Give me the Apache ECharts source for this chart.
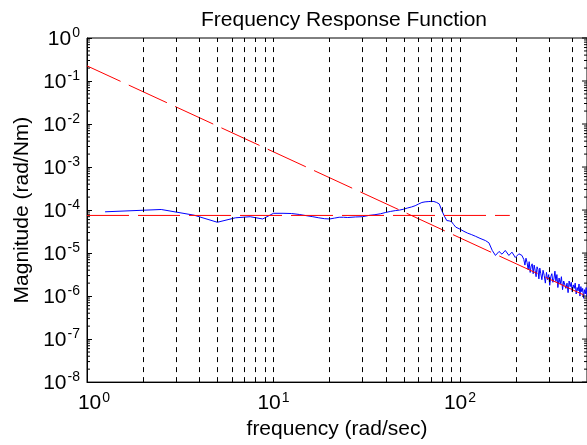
<!DOCTYPE html>
<html><head><meta charset="utf-8">
<script src="https://cdn.jsdelivr.net/npm/echarts@6/dist/echarts.min.js"></script>
<style>html,body{margin:0;padding:0;background:#fff}#c{width:587px;height:445px}</style>
</head><body><div id="c"></div>
<script>
const chartTitle = 'Frequency Response Function';
const xName = 'frequency (rad/sec)';
const yName = 'Magnitude (rad/Nm)';
const xMin = 1, xMax = 480;
const yMin = 1e-8, yMax = 1;
const gridFreqs = [2,3,4,5,6,7,8,9,10,20,30,40,50,60,70,80,90,100,200,300,400];

// measured FRF (blue)
const frfFreq = [1.25,2.5,3.75,5,6.25,7.5,8.75,10,11.25,12.5,13.75,15,16.25,17.5,18.75,20,21.25,22.5,23.75,25,27.5,30,32.5,35,37.5,40,42.5,45,47.5,50,52.5,55,57.5,60,62.5,65,67.5,70,72.5,75,77.5,80,82.5,85,87.5,90,92.5,95,100,105,110,115,121,128,137,143,149,155,162,168,175,183,190,198,207,215,
  220,223,226,229,232,235,238,241,244,247,250,253,256,259,262,265,268,271,275,279,283,287,291,295,299,303,307,311,315,319,323,327,331,335,340,345,350,355,360,365,370,375,380,385,390,395,400,405,410,415,420,425,430,435,440,445,450,455,460,465,470,475,480];
const frfMag  = [9.1e-5,1.03e-4,7.6e-5,5.2e-5,6.6e-5,7.0e-5,6.2e-5,8.4e-5,8.4e-5,8.3e-5,7.9e-5,7.4e-5,7.0e-5,6.6e-5,6.3e-5,6.2e-5,6.5e-5,6.8e-5,6.8e-5,6.7e-5,6.9e-5,7.0e-5,7.5e-5,7.8e-5,8.2e-5,8.8e-5,9.3e-5,9.7e-5,1.0e-4,1.05e-4,1.12e-4,1.18e-4,1.26e-4,1.38e-4,1.5e-4,1.55e-4,1.57e-4,1.59e-4,1.58e-4,1.5e-4,1.38e-4,9.6e-5,7.2e-5,5.7e-5,5.6e-5,5.4e-5,4.6e-5,4.0e-5,3.6e-5,3.2e-5,2.9e-5,2.7e-5,2.46e-5,2.2e-5,1.95e-5,1.73e-5,1.15e-5,8.8e-6,1.09e-5,9.4e-6,1.15e-5,8.8e-6,1.05e-5,7.9e-6,9.6e-6,8.8e-6,
  7.08e-6,5.25e-6,7.59e-6,6.03e-6,4.17e-6,6.31e-6,3.55e-6,5.01e-6,5.62e-6,3.31e-6,5.25e-6,3.98e-6,2.82e-6,4.79e-6,4.17e-6,2.51e-6,4.47e-6,3.39e-6,2.40e-6,3.98e-6,3.02e-6,2.0e-6,3.55e-6,2.40e-6,3.16e-6,1.78e-6,2.82e-6,3.31e-6,2.09e-6,2.51e-6,3.80e-6,2.19e-6,3.16e-6,1.58e-6,2.63e-6,1.91e-6,2.82e-6,1.41e-6,2.24e-6,2.40e-6,1.51e-6,2.0e-6,1.20e-6,2.24e-6,1.66e-6,2.09e-6,1.26e-6,1.82e-6,1.51e-6,2.0e-6,1.12e-6,1.58e-6,1.32e-6,1.91e-6,1.0e-6,1.66e-6,1.26e-6,1.51e-6,8.9e-7,1.41e-6,1.12e-6,1.58e-6,9.5e-7];

// stiffness line (red, horizontal) and mass line (red, slope -2)
const stiffFreq = [1, 185];
const stiffMag  = [7.5e-5, 7.5e-5];
const massFreq  = [1, 480];
const massMag   = [2.25e-1, 9.8e-7];

const FONT = 'Liberation Sans, Arial, Helvetica, sans-serif';

// log minor tick positions for the y axis
const yMinor = [];
for (let e = -8; e < 0; e++) for (let m = 2; m <= 9; m++) yMinor.push(m * Math.pow(10, e));
const yMajor = [];
for (let e = -8; e <= 0; e++) yMajor.push(Math.pow(10, e));

function powLabel(v) {
  const e = Math.log10(v);
  const r = Math.round(e);
  if (Math.abs(e - r) > 1e-6) return '';
  return '{b|10}{s|' + r + '}';
}
function xLabel(v) {
  const e = Math.log10(v);
  const r = Math.round(e);
  if (Math.abs(e - r) > 1e-6) return '';
  return (r === 0 ? '{p|}' : '') + '{b|10}{s|' + r + '}';
}
const rich = {
  b: {fontSize: 21, fontFamily: FONT, color: '#000', lineHeight: 23, verticalAlign: 'bottom'},
  s: {fontSize: 14, fontFamily: FONT, color: '#000', lineHeight: 14, verticalAlign: 'top', padding: [0,0,0,1]},
  p: {width: 14, lineHeight: 14}
};

const chart = echarts.init(document.getElementById('c'), null, {renderer: 'canvas'});
chart.setOption({
  animation: false,
  backgroundColor: '#fff',
  title: {
    text: chartTitle, left: 339, top: 5, textAlign: 'center',
    textStyle: {fontSize: 21, fontWeight: 'normal', color: '#000', fontFamily: FONT}
  },
  grid: {left: 87, top: 38, right: -1, bottom: 61, show: true, borderColor: '#000', borderWidth: 1},
  xAxis: {
    type: 'log', logBase: 10, min: xMin, max: xMax,
    name: xName, nameLocation: 'middle', nameGap: 36,
    nameTextStyle: {fontSize: 21, fontFamily: FONT, color: '#000'},
    axisLine: {lineStyle: {color: '#000', width: 1}},
    axisTick: {show: false},
    splitLine: {show: false},
    axisLabel: {formatter: xLabel, rich: rich, margin: 9, showMaxLabel: false}
  },
  yAxis: {
    type: 'log', logBase: 10, min: yMin, max: yMax, interval: 1,
    name: yName, nameLocation: 'middle', nameGap: 52,
    nameTextStyle: {fontSize: 21, fontFamily: FONT, color: '#000'},
    axisLine: {lineStyle: {color: '#000', width: 1}},
    axisTick: {show: true, inside: true, length: 5, lineStyle: {color: '#000'}},
    splitLine: {show: false},
    axisLabel: {formatter: powLabel, rich: rich, margin: 7}
  },
  series: [
    {
      type: 'line', name: 'frf', data: frfFreq.map((f, i) => [f, frfMag[i]]),
      symbol: 'none', lineStyle: {color: '#0000ff', width: 1}, z: 3,
      markLine: {
        silent: true, symbol: 'none', label: {show: false},
        lineStyle: {color: '#000', width: 1, type: [5, 5]},
        data: gridFreqs.map(f => ({xAxis: f}))
      }
    },
    {
      type: 'line', name: 'stiff', data: stiffFreq.map((f, i) => [f, stiffMag[i]]),
      symbol: 'none', lineStyle: {color: '#ff0000', width: 1, type: [42, 9]}, z: 4
    },
    {
      type: 'line', name: 'mass', data: massFreq.map((f, i) => [f, massMag[i]]),
      symbol: 'none', lineStyle: {color: '#ff0000', width: 1, type: [42, 9], dashOffset: 5}, z: 4
    },
    {
      type: 'custom', name: 'ticks', silent: true, z: 5,
      data: yMinor.map(v => [v, 3]).concat(yMajor.map(v => [v, 5])),
      renderItem: function (params, api) {
        const v = api.value(0), len = api.value(1);
        const pR = api.coord([xMax, v]);
        const pL = api.coord([xMin, v]);
        return {type: 'group', children: [
          {type: 'line', shape: {x1: pL[0], y1: pL[1], x2: pL[0] + (len === 3 ? 3 : 0), y2: pL[1]}, style: {stroke: '#000', lineWidth: 1}},
          {type: 'line', shape: {x1: pR[0] - len, y1: pR[1], x2: pR[0], y2: pR[1]}, style: {stroke: '#000', lineWidth: 1}}
        ]};
      },
      encode: {x: -1, y: 0}
    }
  ]
});
</script></body></html>
